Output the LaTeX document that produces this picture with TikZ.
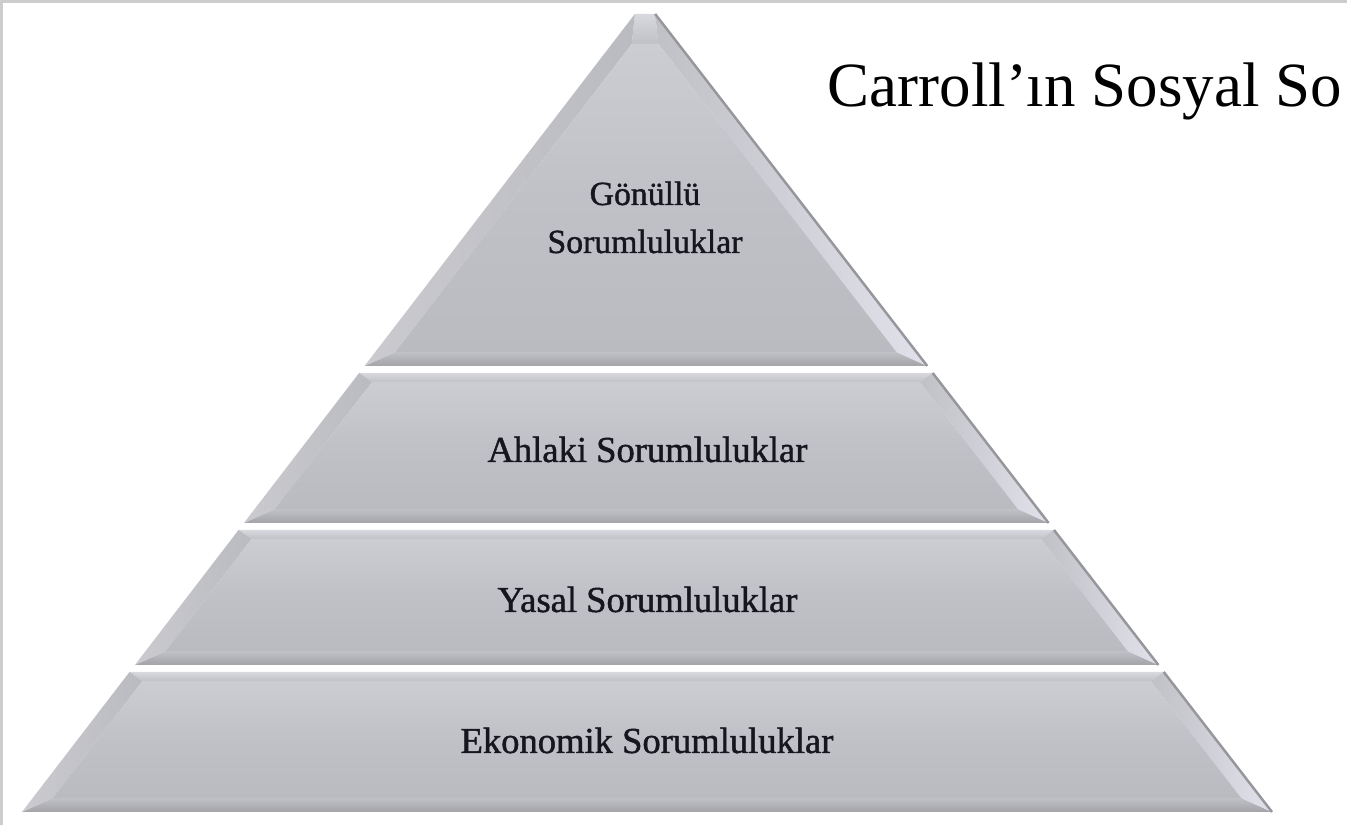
\documentclass[tikz,border=0pt]{standalone}
\usepackage{fontspec}
\setmainfont{Liberation Serif}
\newfontfamily\lblfont[FakeBold=1.2]{Liberation Serif}
\definecolor{base}{RGB}{192,193,198}
\definecolor{toplt}{RGB}{216,217,223}
\definecolor{botdk}{RGB}{163,163,168}
\definecolor{leftlt}{RGB}{202,202,207}
\definecolor{leftdk}{RGB}{186,187,192}
\definecolor{rightlt}{RGB}{224,225,234}
\definecolor{centlt}{RGB}{204,205,210}
\definecolor{centdk}{RGB}{186,187,192}
\definecolor{edgegray}{RGB}{150,150,156}
\definecolor{framegray}{RGB}{205,205,205}
\definecolor{txt}{RGB}{22,22,30}
\newcommand\pyrlayer[4]{%
  \pgfmathsetmacro\pyrTy{#1}%
  \pgfmathsetmacro\pyrBy{#2}%
  \pgfmathsetmacro\pyrTiy{#1+#3}%
  \pgfmathsetmacro\pyrBiy{#2-#4}%
  \pgfmathsetmacro\pyrXlt{22+(812-\pyrTy)*0.768}%
  \pgfmathsetmacro\pyrXrt{1272-(812-\pyrTy)*0.773}%
  \pgfmathsetmacro\pyrXlb{22+(812-\pyrBy)*0.768}%
  \pgfmathsetmacro\pyrXrb{1272-(812-\pyrBy)*0.773}%
  \pgfmathsetmacro\pyrXlti{22+(812-\pyrTiy)*0.768+20}%
  \pgfmathsetmacro\pyrXrti{1272-(812-\pyrTiy)*0.773-20}%
  \pgfmathsetmacro\pyrXlbi{22+(812-\pyrBiy)*0.768+20}%
  \pgfmathsetmacro\pyrXrbi{1272-(812-\pyrBiy)*0.773-20}%
  % top facet
  \shade[top color=toplt, bottom color=base]
    (\pyrXlt,\pyrTy) -- (\pyrXrt,\pyrTy) -- (\pyrXrti,\pyrTiy) -- (\pyrXlti,\pyrTiy) -- cycle;
  % bottom facet
  \shade[top color=base, bottom color=botdk]
    (\pyrXlbi,\pyrBiy) -- (\pyrXrbi,\pyrBiy) -- (\pyrXrb,\pyrBy) -- (\pyrXlb,\pyrBy) -- cycle;
  % left facet
  \shade[left color=leftlt, right color=leftdk]
    (\pyrXlt,\pyrTy) -- (\pyrXlti,\pyrTiy) -- (\pyrXlbi,\pyrBiy) -- (\pyrXlb,\pyrBy) -- cycle;
  % right facet
  \shade[left color=base, right color=rightlt]
    (\pyrXrt,\pyrTy) -- (\pyrXrb,\pyrBy) -- (\pyrXrbi,\pyrBiy) -- (\pyrXrti,\pyrTiy) -- cycle;
  % inner face
  \shade[top color=centlt, bottom color=centdk, middle color=base]
    (\pyrXlti,\pyrTiy) -- (\pyrXrti,\pyrTiy) -- (\pyrXrbi,\pyrBiy) -- (\pyrXlbi,\pyrBiy) -- cycle;
  % outer right edge
  \draw[edgegray, line width=0.7pt] (\pyrXrt,\pyrTy) -- (\pyrXrb,\pyrBy);
}
\tikzset{
  lbl/.style={text=txt, inner sep=0pt, anchor=base, font=\lblfont\fontsize{10.4}{12}\selectfont},
  toplbl/.style={lbl, font=\lblfont\fontsize{9.6}{11}\selectfont},
  title/.style={text=black, inner sep=0pt, anchor=base west, font=\fontsize{17.9}{21}\selectfont}
}
\begin{document}
\begin{tikzpicture}[x=0.01cm,y=-0.01cm]
\useasboundingbox (0,0) rectangle (1347,825);
\fill[white] (0,0) rectangle (1347,825);
\draw[framegray, line width=0.9pt] (1.5,825) -- (1.5,1.5) -- (1347,1.5);
\pyrlayer{14}{366}{30}{14}
\pyrlayer{373}{523}{9}{14}
\pyrlayer{530}{665}{9}{14}
\pyrlayer{672}{812}{9}{14}
\node[toplbl] (gon1) at (645,205) {Gönüllü};
\node[toplbl] (gon2) at (645,253) {Sorumluluklar};
\node[lbl] (ahlaki) at (647.5,462) {Ahlaki Sorumluluklar};
\node[lbl] (yasal) at (647.5,612) {Yasal Sorumluluklar};
\node[lbl] (ekonomik) at (647,753) {Ekonomik Sorumluluklar};
\node[title] (baslik) at (827,107) {Carroll’ın Sosyal So};
\end{tikzpicture}
\end{document}
